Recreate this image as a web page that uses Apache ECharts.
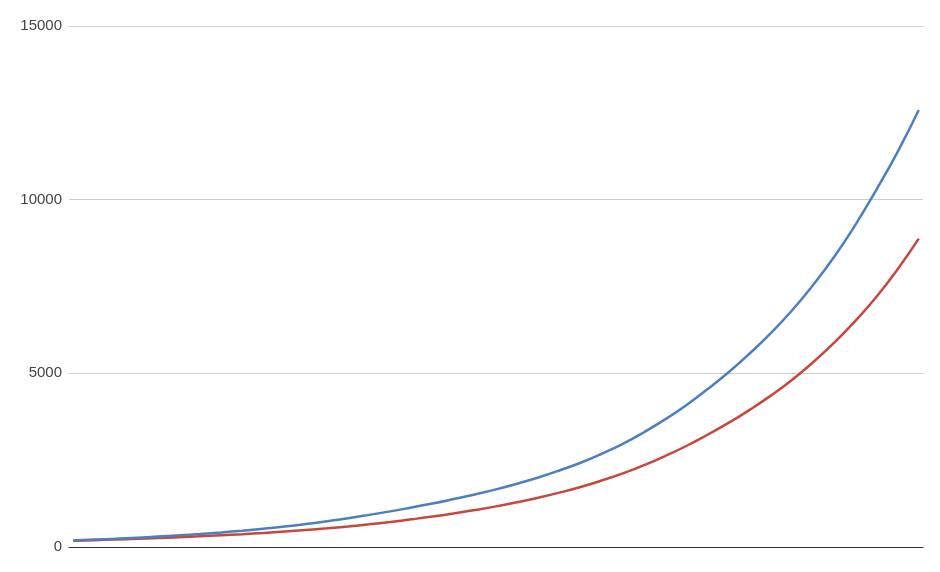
<!DOCTYPE html>
<html>
<head>
<meta charset="utf-8">
<script src="https://cdn.jsdelivr.net/npm/echarts@6/dist/echarts.min.js"></script>
<style>html,body{margin:0;padding:0;background:#fff}#c{width:940px;height:572px}</style>
</head>
<body>
<div id="c"></div>
<script>
var steps = [0,1,2,3,4,5,6,7,8,9,10,11,12,13,14,15,16,17,18,19,20,21,22,23,24,25,26,27,28,29,30,31,32,33,34,35,36,37,38,39,40];
var blueValues = [190,213,238,267,299,335,375,420,471,528,591,663,743,829,925,1026,1138,1253,1380,1514,1660,1823,2002,2204,2426,2685,2972,3304,3673,4084,4540,5029,5571,6158,6808,7542,8356,9274,10291,11378,12580];
var redValues = [180,197,215,235,257,281,308,337,369,405,444,488,537,593,654,722,797,877,966,1063,1170,1289,1420,1566,1728,1913,2118,2355,2618,2908,3231,3572,3949,4358,4810,5319,5882,6509,7204,7998,8880];
var yTicks = [0,5000,10000,15000];

function pairs(vals){ return vals.map(function(v,i){ return [steps[i], v]; }); }

var chart = echarts.init(document.getElementById('c'), null, {renderer:'canvas'});
chart.setOption({
  animation:false,
  grid:{left:69, right:17, top:26, bottom:25},
  xAxis:{
    type:'value', min:-0.2, max:40.2,
    axisLine:{show:true, onZero:false, lineStyle:{color:'#333', width:1}},
    axisTick:{show:false}, axisLabel:{show:false}, splitLine:{show:false}
  },
  yAxis:{
    type:'value', min:yTicks[0], max:yTicks[yTicks.length-1], interval:5000,
    axisLine:{show:false}, axisTick:{show:false},
    axisLabel:{color:'#444', fontSize:15, fontFamily:'Liberation Sans, Arial, sans-serif', margin:7,
      formatter:function(v){ return String(v); }},
    splitLine:{lineStyle:{color:'#cccccc', width:1}}
  },
  series:[
    {type:'line', data:pairs(blueValues), smooth:true, showSymbol:false, lineStyle:{color:'#4b7fc4', width:2.5}, itemStyle:{color:'#4b7fc4'}, z:3},
    {type:'line', data:pairs(redValues), smooth:true, showSymbol:false, lineStyle:{color:'#c8463c', width:2.5}, itemStyle:{color:'#c8463c'}, z:2}
  ]
});
</script>
</body>
</html>
